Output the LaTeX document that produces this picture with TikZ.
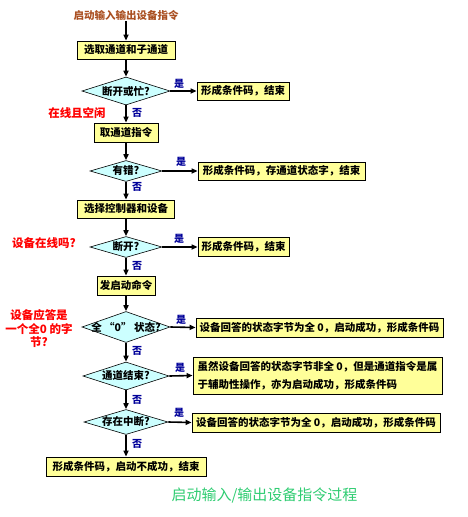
\documentclass[tikz,border=0pt]{standalone}
\usepackage{fontspec}
\setmainfont{Noto Sans CJK SC}
\usetikzlibrary{shapes.geometric,arrows.meta}
\definecolor{boxyellow}{HTML}{FFFF99}
\definecolor{diacyan}{HTML}{CCFFFF}
\definecolor{labblue}{HTML}{000099}
\definecolor{titbrown}{HTML}{AA5022}
\definecolor{capgreen}{HTML}{2ECC71}
\begin{document}
\begin{tikzpicture}[x=1pt,y=-1pt,
  procbox/.style={draw=black,line width=0.8pt,fill=boxyellow,inner sep=0pt,
    font=\fontsize{10.5}{12}\selectfont\bfseries,anchor=center},
  decision/.style={diamond,draw=black,line width=0.6pt,fill=diacyan,inner sep=0pt,
    font=\fontsize{10.5}{12}\selectfont\bfseries},
  yn/.style={text=labblue,font=\fontsize{10}{12}\selectfont\bfseries,inner sep=0pt},
  note/.style={text=red,font=\fontsize{11.5}{13.5}\selectfont\bfseries,inner sep=0pt,align=center},
  flow/.style={line width=1.6pt,-{Triangle[length=6pt,width=5pt]}}]
\useasboundingbox (0,0) rectangle (468,517);
% title
\node[text=titbrown,font=\fontsize{10.5}{12}\selectfont\bfseries,inner sep=1pt] (title) at (126,15) {启动输入输出设备指令};
% main column
\node[procbox,minimum width=98pt,minimum height=18pt] (b1) at (126,50) {选取通道和子通道};
\node[decision,minimum width=88pt,minimum height=28pt] (d1) at (126,91) {\makebox[0pt]{断开或忙?}};
\node[procbox,minimum width=64pt,minimum height=19pt] (b2) at (126,132.5) {取通道指令};
\node[decision,minimum width=72pt,minimum height=21pt] (d2) at (126,171) {\makebox[0pt]{有错?}};
\node[procbox,minimum width=97pt,minimum height=18pt] (b3) at (126,209) {选择控制器和设备};
\node[decision,minimum width=72pt,minimum height=21pt] (d3) at (126,247) {\makebox[0pt]{断开?}};
\node[procbox,minimum width=58pt,minimum height=19pt] (b4) at (126,285.5) {发启动命令};
\node[decision,minimum width=88pt,minimum height=31pt] (d4) at (126,327) {\makebox[0pt]{全 “0” 状态?}};
\node[decision,minimum width=86pt,minimum height=28pt] (d5) at (126,376) {\makebox[0pt]{通道结束?}};
\node[decision,minimum width=84pt,minimum height=25pt] (d6) at (126,422) {\makebox[0pt]{存在中断?}};
\node[procbox,minimum width=160pt,minimum height=19pt] (b5) at (126,466.5) {形成条件码，启动不成功，结束};
% right column
\node[procbox,minimum width=92pt,minimum height=18pt] (y1) at (243,91) {形成条件码，结束};
\node[procbox,minimum width=167pt,minimum height=18pt] (y2) at (281.5,171) {形成条件码，存通道状态字，结束};
\node[procbox,minimum width=91pt,minimum height=19pt] (y3) at (243.5,247) {形成条件码，结束};
\node[procbox,minimum width=247pt,minimum height=19pt] (y4) at (319.5,327.5) {设备回答的状态字节为全 0，启动成功，形成条件码};
\node[procbox,minimum width=249pt,minimum height=37pt,align=left,
  font=\fontsize{10.5}{18}\selectfont\bfseries] (y5) at (317.5,375.5) {虽然设备回答的状态字节非全 0，但是通道指令是属\\于辅助性操作，亦为启动成功，形成条件码};
\node[procbox,minimum width=248pt,minimum height=19pt] (y6) at (316,422.5) {设备回答的状态字节为全 0，启动成功，形成条件码};
% connectors
\draw[flow] (title) -- (b1);
\draw[flow] (b1) -- (d1);
\draw[flow] (d1) -- (b2);
\draw[flow] (b2) -- (d2);
\draw[flow] (d2) -- (b3);
\draw[flow] (b3) -- (d3);
\draw[flow] (d3) -- (b4);
\draw[flow] (b4) -- (d4);
\draw[flow] (d4) -- (d5);
\draw[flow] (d5) -- (d6);
\draw[flow] (d6) -- (b5);
\draw[flow] (d1.east) -- (y1.west);
\draw[flow] (d2.east) -- (y2.west);
\draw[flow] (d3.east) -- (y3.west);
\draw[flow] (d4.east) -- (y4.west);
\draw[flow] (d5.east) -- (y5.west);
\draw[flow] (d6.east) -- (y6.west);
% yes / no labels
\node[yn] (s1) at (179,84) {是};
\node[yn] (s2) at (181,162) {是};
\node[yn] (s3) at (179,239) {是};
\node[yn] (s4) at (181,320) {是};
\node[yn] (s5) at (180,368) {是};
\node[yn] (s6) at (179,413) {是};
\node[yn] (n1) at (137,113) {否};
\node[yn] (n2) at (137,187) {否};
\node[yn] (n3) at (137,266) {否};
\node[yn] (n4) at (137,351) {否};
\node[yn] (n5) at (137,400) {否};
\node[yn] (n6) at (137,444) {否};
% red notes
\node[note] (r1) at (77,113) {在线且空闲};
\node[note] (r2) at (44,243) {设备在线吗?};
\node[note] (r3) at (39,329) {设备应答是\\一个全0 的字\\节?};
% caption
\node[text=capgreen,font=\fontsize{15}{18}\selectfont,inner sep=0pt] (cap) at (264.5,496) {启动输入/输出设备指令过程};
\end{tikzpicture}
\end{document}
